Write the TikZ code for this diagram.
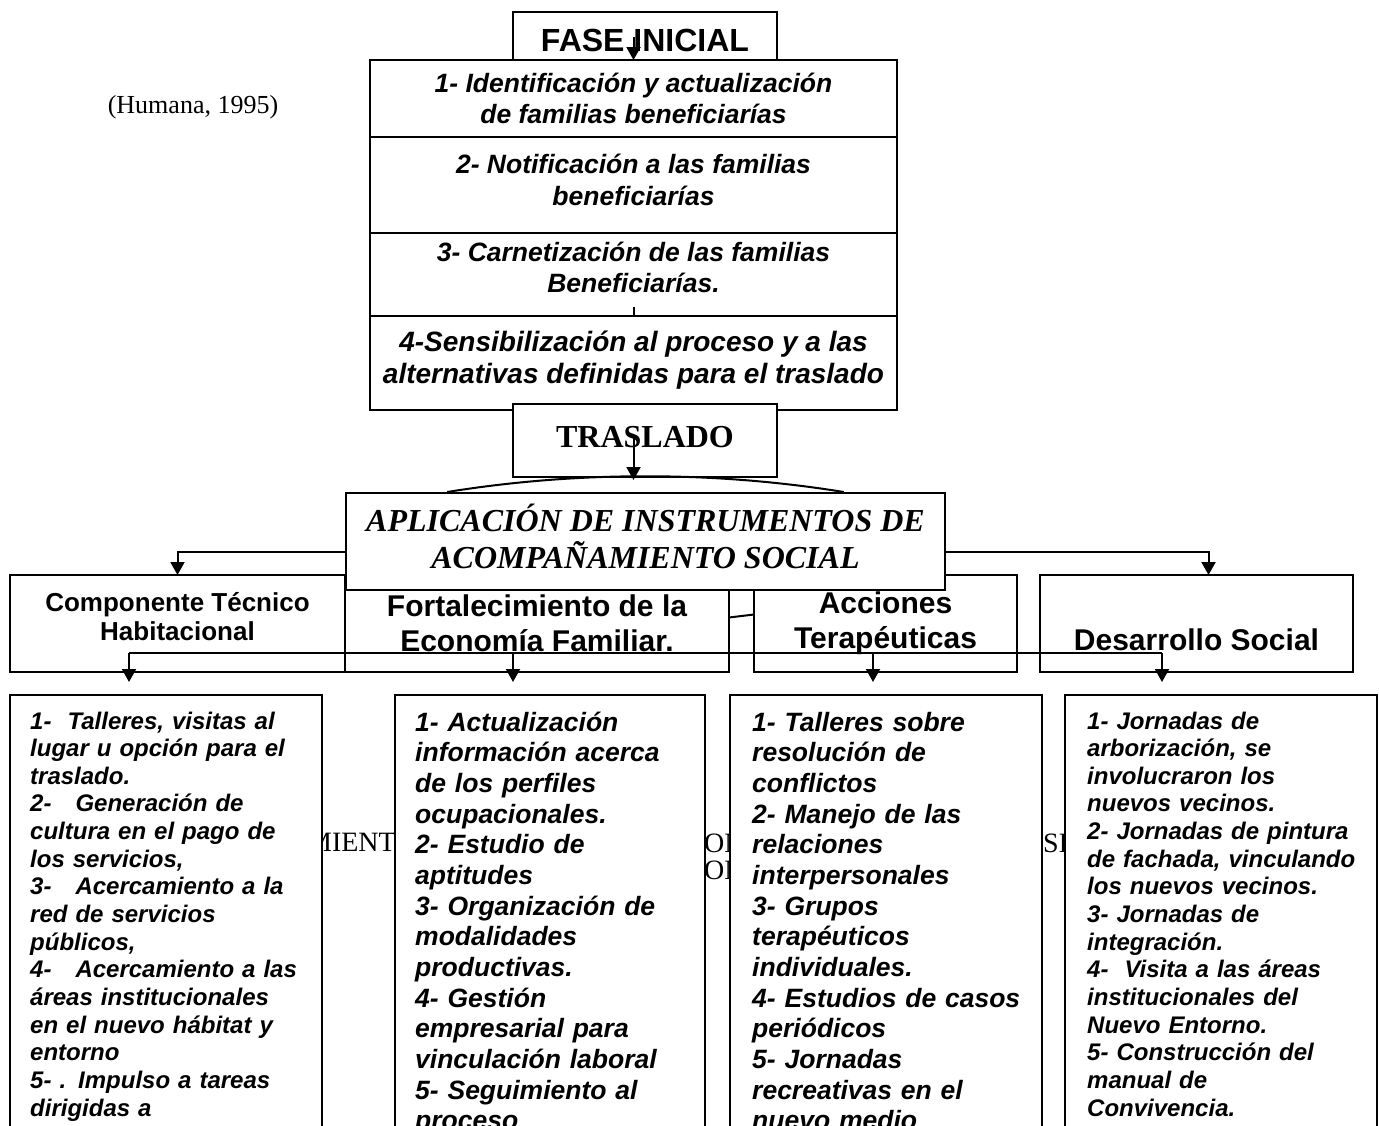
\documentclass[tikz,border=0pt]{standalone}
\usepackage{fontspec}
\setmainfont{Liberation Serif}
\setsansfont{Liberation Sans}
\usetikzlibrary{arrows.meta,positioning,calc}
\tikzset{
  phasebox/.style={rectangle,draw,line width=2pt,fill=white,minimum width=264pt,inner sep=0pt,font=\fontsize{32pt}{36pt}\selectfont\sffamily\bfseries},
  stepbox/.style={rectangle,draw,line width=2pt,fill=white,minimum width=527pt,align=center,inner sep=0pt,outer sep=0pt,font=\fontsize{26.5pt}{31.5pt}\selectfont\sffamily\bfseries\itshape},
  aplicbox/.style={rectangle,draw,line width=2pt,fill=white,minimum width=599pt,minimum height=97pt,align=center,inner sep=0pt,text depth=10pt,font=\fontsize{32pt}{36.5pt}\selectfont\bfseries\itshape},
  branch/.style={rectangle,draw,line width=2pt,fill=white,minimum height=97pt,align=center,inner sep=0pt,outer sep=0pt,font=\fontsize{30pt}{35pt}\selectfont\sffamily\bfseries},
  listbox/.style={rectangle,draw,line width=2pt,fill=white,minimum width=312pt,minimum height=480pt,outer sep=0pt,anchor=north west},
  listtext/.style={anchor=base west,align=left,text width=300pt,inner sep=0pt},
  listsmall/.style={listtext,font=\fontsize{24pt}{27.65pt}\selectfont\sffamily\bfseries\itshape},
  listbig/.style={listtext,font=\fontsize{26.5pt}{30.67pt}\selectfont\sffamily\bfseries\itshape},
  ghost/.style={inner sep=0pt,font=\fontsize{28pt}{28pt}\selectfont},
  arrow/.style={-{Triangle[length=13pt,width=14pt]},line width=2pt},
  line/.style={line width=2pt}
}
\begin{document}
\begin{tikzpicture}[x=1pt,y=-1pt]
  \useasboundingbox (0,0) rectangle (1379,1125);
  \clip (0,0) rectangle (1379,1125);

  \node[ghost,anchor=base east] (frag1) at (396,851) {MIENT};
  \node[ghost,anchor=base west] (frag2) at (704,852) {ON};
  \node[ghost,anchor=base west] (frag3) at (704,879) {ON};
  \node[ghost,anchor=base west] (frag4) at (1043,852) {SE};

  \node[font=\fontsize{26pt}{30pt}\selectfont] (fuente) at (193,107) {(Humana, 1995)};

  \node[phasebox,minimum height=56pt] (fase) at (645,40) {FASE INICIAL};
  \node[stepbox,minimum height=77pt,anchor=north] (paso1) at (633.5,60) {1- Identificación y actualización\\de familias beneficiarías};
  \node[stepbox,minimum height=96pt,text depth=10pt,below=0pt of paso1] (paso2) {2- Notificación a las familias\\beneficiarías};
  \node[stepbox,minimum height=83pt,text depth=14pt,below=0pt of paso2] (paso3) {3- Carnetización de las familias\\Beneficiarías.};
  \node[stepbox,minimum height=94pt,text depth=11pt,below=0pt of paso3,font=\fontsize{28pt}{32pt}\selectfont\sffamily\bfseries\itshape] (paso4) {4-Sensibilización al proceso y a las\\alternativas definidas para el traslado};
  \draw[arrow] (fase.center -| paso1.north) ++(0,-3) -- (paso1.north);
  \draw[line] (paso4.north) -- ++(0,-9);

  \node[phasebox,minimum height=73pt,text depth=8pt,font=\fontsize{32pt}{36pt}\selectfont\bfseries] (tras) at (645,440.5) {TRASLADO};

  \node[branch,minimum width=335pt,text depth=14pt,font=\fontsize{26pt}{29pt}\selectfont\sffamily\bfseries] (comp) at (177.5,623.5) {Componente Técnico\\Habitacional};
  \node[branch,minimum width=384pt,right=0pt of comp] (fort) {Fortalecimiento de la\\Economía Familiar.};
  \node[branch,minimum width=263pt,right=25pt of fort] (acc) {Acciones\\Terapéuticas};
  \node[branch,minimum width=313pt,text depth=6pt,right=23pt of acc] (des) {\strut\\Desarrollo Social};

  \node[aplicbox] (aplic) at (645.5,541.5) {APLICACIÓN DE INSTRUMENTOS DE\\ACOMPAÑAMIENTO SOCIAL};
  \draw[line] ($(aplic.north west)!0.17!(aplic.north east)$) .. controls +(130,-21) and +(-130,-21) .. ($(aplic.north west)!0.83!(aplic.north east)$);
  \coordinate (cima) at ($(aplic.north)+(0,-12)$);
  \draw[arrow] (tras.center -| paso4.south) ++(0,-3) -- (cima -| paso4.south);

  \draw[arrow] ([yshift=-10pt]aplic.west) -| (comp.north);
  \draw[arrow] ([yshift=-10pt]aplic.east) -| ([xshift=12pt]des.north);
  \draw[line] ([yshift=6pt]fort.east) -- ([yshift=9pt]acc.west);

  \node[listbox] (b1) at (10,695) {};
  \node[listbox,minimum width=310pt,right=73pt of b1] (b2) {};
  \node[listbox,right=25pt of b2] (b3) {};
  \node[listbox,right=23pt of b3] (b4) {};

  \coordinate (bus1) at (129,653);
  \coordinate (bus2) at (513,653);
  \coordinate (bus3) at (873,653);
  \coordinate (bus4) at (1162,653);
  \draw[line] (bus1) -- (bus4);
  \foreach \n in {1,...,4}
    \draw[arrow,shorten >=13pt] (bus\n) -- (bus\n |- b\n.north);

  \node[listsmall] (t1) at (30,729) {1-\ \ Talleres, visitas al\\lugar u opción para el\\traslado.\\2-\ \ \ Generación de\\cultura en el pago de\\los servicios,\\3-\ \ \ Acercamiento a la\\red de servicios\\públicos,\\4-\ \ \ Acercamiento a las\\áreas institucionales\\en el nuevo hábitat y\\entorno\\5- . Impulso a tareas\\dirigidas a};
  \node[listbig] (t2) at (415,731) {1- Actualización\\información acerca\\de los perfiles\\ocupacionales.\\2- Estudio de\\aptitudes\\3- Organización de\\modalidades\\productivas.\\4- Gestión\\empresarial para\\vinculación laboral\\5- Seguimiento al\\proceso};
  \node[listbig] (t3) at (752,731) {1- Talleres sobre\\resolución de\\conflictos\\2- Manejo de las\\relaciones\\interpersonales\\3- Grupos\\terapéuticos\\individuales.\\4- Estudios de casos\\periódicos\\5- Jornadas\\recreativas en el\\nuevo medio};
  \node[listsmall] (t4) at (1087,729) {1- Jornadas de\\arborización, se\\involucraron los\\nuevos vecinos.\\2- Jornadas de pintura\\de fachada, vinculando\\los nuevos vecinos.\\3- Jornadas de\\integración.\\4-\ \ Visita a las áreas\\institucionales del\\Nuevo Entorno.\\5- Construcción del\\manual de\\Convivencia.};
\end{tikzpicture}
\end{document}
